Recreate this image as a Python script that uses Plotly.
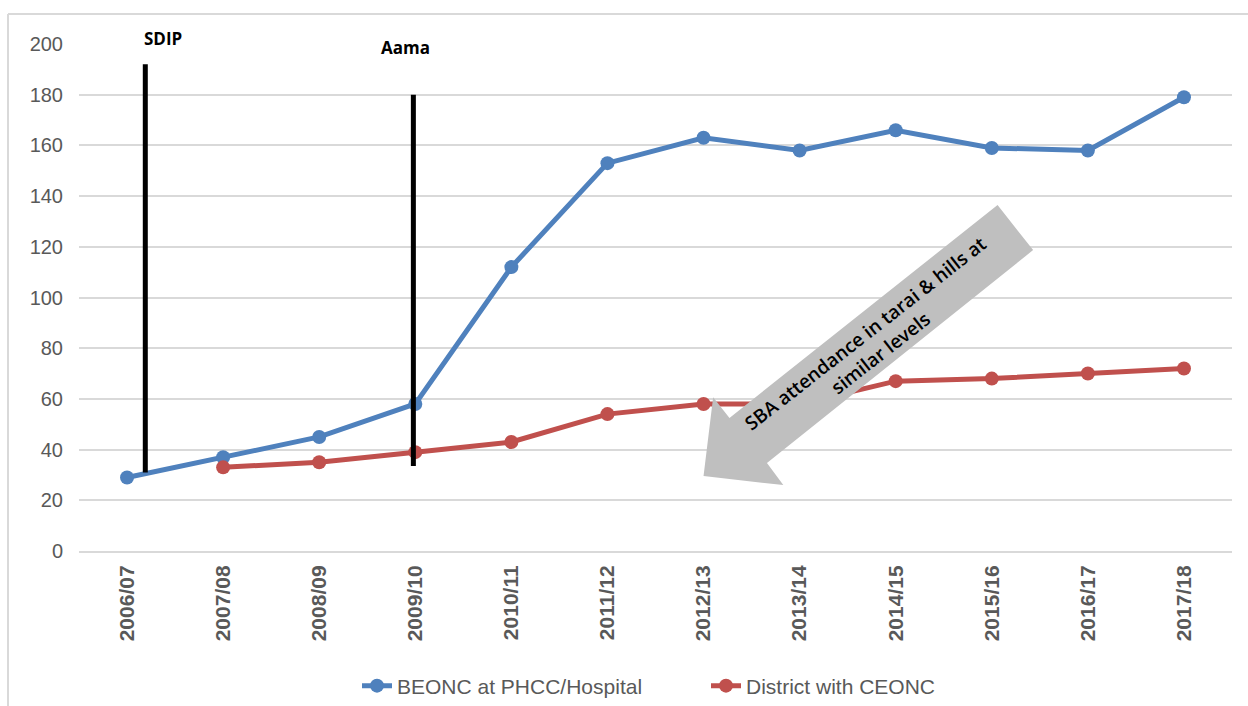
import plotly.graph_objects as go

# Fiscal years on the category axis
years = ["2006/07", "2007/08", "2008/09", "2009/10", "2010/11", "2011/12",
         "2012/13", "2013/14", "2014/15", "2015/16", "2016/17", "2017/18"]

# Number of facilities per year
beonc = [29, 37, 45, 58, 112, 153, 163, 158, 166, 159, 158, 179]
ceonc = [None, 33, 35, 39, 43, 54, 58, 58, 67, 68, 70, 72]

# Policy markers: (label, x position in category units, line bottom, line top)
events = [("SDIP", 0.19, 31, 192), ("Aama", 2.98, 33.5, 180)]
# Label anchors: (x in category units, y in paper units)
event_labels = [(0.375, 1.0099), (2.90, 0.994)]

BLUE = "#4F81BD"
RED = "#C0504D"
GREY_TXT = "#595959"
GRID = "#D9D9D9"

# Plot area in pixels
L, R, T, B = 79, 16, 44, 155
W, H = 1248, 706
PW, PH = W - L - R, H - T - B

fig = go.Figure()
fig.add_trace(go.Scatter(
    x=years, y=beonc, name="BEONC at PHCC/Hospital", mode="lines+markers",
    line=dict(color=BLUE, width=5), marker=dict(size=14, color=BLUE)))
fig.add_trace(go.Scatter(
    x=years, y=ceonc, name="District with CEONC", mode="lines+markers",
    line=dict(color=RED, width=5), marker=dict(size=14, color=RED)))

shapes = []
annotations = []
for (label, xpos, y0, y1), (lx, ly) in zip(events, event_labels):
    shapes.append(dict(type="line", xref="x", yref="y", x0=xpos, x1=xpos,
                       y0=y0, y1=y1, line=dict(color="black", width=5)))
    annotations.append(dict(xref="x", yref="paper", x=lx, y=ly, text=f"<b>{label}</b>",
                            showarrow=False, yanchor="middle",
                            font=dict(family="Open Sans", size=17, color="black")))

# Grey block arrow pointing down-left
arrow_pts = [(9.06, 136.5), (9.43, 118.7), (6.66, 34.7), (6.83, 26.0),
             (6.00, 29.6), (6.10, 60.7), (6.27, 52.5)]
path = "M " + " L ".join(f"{x},{y}" for x, y in arrow_pts) + " Z"
shapes.append(dict(type="path", xref="x", yref="y", path=path,
                   fillcolor="#BFBFBF", line=dict(width=0), layer="above"))

annotations.append(dict(xref="x", yref="y", x=7.76, y=82,
                        text="SBA attendance in tarai &amp; hills at<br>similar levels",
                        textangle=-38, showarrow=False,
                        font=dict(family="Open Sans", size=19, color="black", weight=600)))

# Chart border (top and left edges)
px_x = lambda p: (p - L) / PW
px_y = lambda p: (H - B - p) / PH
shapes.append(dict(type="line", xref="paper", yref="paper",
                   x0=px_x(8), x1=px_x(1250), y0=px_y(14), y1=px_y(14),
                   line=dict(color=GRID, width=2)))
shapes.append(dict(type="line", xref="paper", yref="paper",
                   x0=px_x(8), x1=px_x(8), y0=px_y(14), y1=px_y(712),
                   line=dict(color=GRID, width=2)))

fig.update_layout(
    width=W, height=H,
    margin=dict(l=L, r=R, t=T, b=B, autoexpand=False),
    paper_bgcolor="white", plot_bgcolor="white",
    font=dict(family="Liberation Sans", color=GREY_TXT),
    showlegend=True,
    legend=dict(orientation="h", x=px_x(357), xanchor="left", y=px_y(686), yanchor="middle",
                font=dict(size=21, color=GREY_TXT), entrywidth=304, entrywidthmode="pixels",
                tracegroupgap=0),
    shapes=shapes, annotations=annotations,
)
fig.update_xaxes(type="category", range=[-0.5, 11.5], tickangle=-90, automargin=False,
                 tickfont=dict(family="Liberation Sans", size=21, color=GREY_TXT, weight="bold"),
                 showgrid=False, showline=True, linecolor=GRID, linewidth=2,
                 ticks="", ticklabelstandoff=4, fixedrange=True)
fig.update_yaxes(range=[0, 200], dtick=20, showgrid=True, gridcolor=GRID, gridwidth=2,
                 zeroline=False, showline=False, ticks="", automargin=False,
                 tickfont=dict(family="Liberation Sans", size=20, color=GREY_TXT),
                 ticklabelstandoff=15, fixedrange=True)

fig.write_html("out.html")
